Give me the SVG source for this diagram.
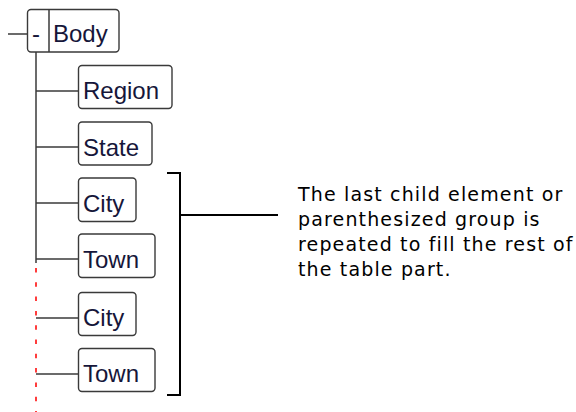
<svg xmlns="http://www.w3.org/2000/svg" width="576" height="412" viewBox="0 0 576 412">
<style>
.box{fill:#fff;stroke:#3a3a3a;stroke-width:1.4}
.lbl{font-family:"Liberation Sans",Arial,sans-serif;font-size:24px;fill:#16163a}
.ln{stroke:#3a3a3a;stroke-width:1.5;fill:none}
.note{font-family:"DejaVu Sans",Verdana,sans-serif;font-size:19px;letter-spacing:1.15px;fill:#000}
</style>
<rect width="576" height="412" fill="#fff"/>
<g id="connectors">
<line class="ln" x1="8" y1="34" x2="27.5" y2="34"/>
<line class="ln" x1="36" y1="52" x2="36" y2="263"/>
<line class="ln" x1="36" y1="91" x2="78.5" y2="91"/>
<line class="ln" x1="36" y1="147" x2="78.5" y2="147"/>
<line class="ln" x1="36" y1="203" x2="78.5" y2="203"/>
<line class="ln" x1="36" y1="259" x2="78.5" y2="259"/>
<line class="ln" x1="36" y1="318" x2="78.5" y2="318"/>
<line class="ln" x1="36" y1="374" x2="78.5" y2="374"/>
<line x1="36" y1="268" x2="36" y2="412" stroke="#ff3c3c" stroke-width="2" stroke-dasharray="4.5 9.8"/>
<path d="M167,173 H180 V395 H167 M180,215 H278" fill="none" stroke="#000" stroke-width="2"/>
</g>
<g id="body">
<rect class="box" x="27.5" y="9.5" width="91.5" height="42.5" rx="3.5"/>
<line class="ln" x1="49" y1="9.5" x2="49" y2="52"/>
<text class="lbl" x="32" y="42">-</text>
<text class="lbl" x="53" y="42">Body</text>
</g>
<g id="region">
<rect class="box" x="78.5" y="65.5" width="93.5" height="43" rx="3.5"/>
<text class="lbl" x="83" y="99">Region</text>
</g>
<g id="state">
<rect class="box" x="78.5" y="122" width="73.5" height="43" rx="3.5"/>
<text class="lbl" x="83" y="155.5">State</text>
</g>
<g id="city1">
<rect class="box" x="78.5" y="178" width="57.5" height="43.5" rx="3.5"/>
<text class="lbl" x="83" y="211.5">City</text>
</g>
<g id="town1">
<rect class="box" x="78.5" y="234" width="76.5" height="43.5" rx="3.5"/>
<text class="lbl" x="83" y="267.5">Town</text>
</g>
<g id="city2">
<rect class="box" x="78.5" y="292.5" width="57.5" height="43" rx="3.5"/>
<text class="lbl" x="83" y="326">City</text>
</g>
<g id="town2">
<rect class="box" x="78.5" y="348.5" width="76.5" height="43" rx="3.5"/>
<text class="lbl" x="83" y="382">Town</text>
</g>
<g id="note">
<text class="note" x="298" y="201">The last child element or</text>
<text class="note" x="298" y="226">parenthesized group is</text>
<text class="note" x="298" y="251">repeated to fill the rest of</text>
<text class="note" x="298" y="276">the table part.</text>
</g>
</svg>
